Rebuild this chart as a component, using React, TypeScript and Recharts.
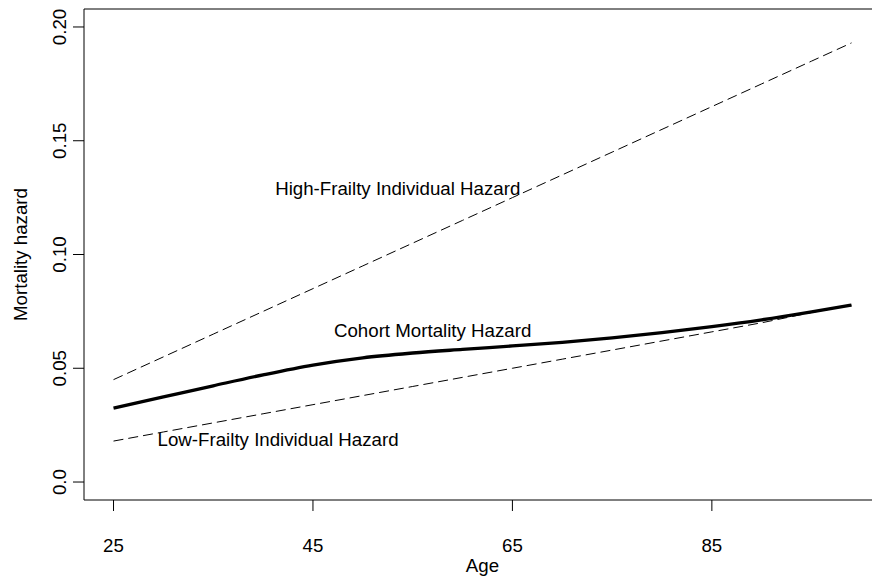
import React from 'react';
import { LineChart, Line, XAxis, YAxis, ReferenceLine, ReferenceDot } from 'recharts';

const ages = [25, 30, 35, 40, 45, 50, 55, 60, 65, 70, 75, 80, 85, 90, 95, 99];
const highFrailty = [0.045, 0.055, 0.065, 0.075, 0.085, 0.095, 0.105, 0.115, 0.125, 0.135, 0.145, 0.155, 0.165, 0.175, 0.185, 0.193];
const cohortHazard = [0.0325, 0.0374, 0.0423, 0.0471, 0.0514, 0.0546, 0.0567, 0.0583, 0.0598, 0.0614, 0.0634, 0.0657, 0.0683, 0.0713, 0.0748, 0.0778];
const lowFrailty = [0.018, 0.022, 0.026, 0.030, 0.034, 0.038, 0.042, 0.046, 0.050, 0.054, 0.058, 0.062, 0.066, 0.070, 0.0745, 0.0777];

const xTicks = [25, 45, 65, 85];
const yTicks = [0, 0.05, 0.1, 0.15, 0.2];
const yTickLabels = ['0.0', '0.05', '0.10', '0.15', '0.20'];

const annotationTexts = ['High-Frailty Individual Hazard', 'Cohort Mortality Hazard', 'Low-Frailty Individual Hazard'];
const annotationAges = [53.5, 57.0, 41.5];
const annotationValues = [0.1292, 0.0668, 0.0189];

const xDomain = [22.04, 101.96];
const yDomain = [-0.0079, 0.2079];

const data = ages.map((a, i) => ({
  age: a,
  high: highFrailty[i],
  cohort: cohortHazard[i],
  low: lowFrailty[i],
}));

const FONT = '"Liberation Sans", Arial, Helvetica, sans-serif';
const FS = 18.7;

const XTick = (props: any) => {
  const { x, y, payload } = props;
  return (
    <text x={x} y={y + 41} textAnchor="middle" fontFamily={FONT} fontSize={FS} fill="#000">
      {payload.value}
    </text>
  );
};

const YTick = (props: any) => {
  const { x, y, payload } = props;
  const idx = yTicks.indexOf(payload.value);
  const label = idx >= 0 ? yTickLabels[idx] : String(payload.value);
  return (
    <text
      x={x}
      y={y}
      transform={`rotate(-90 ${x} ${y})`}
      textAnchor="middle"
      fontFamily={FONT}
      fontSize={FS}
      fill="#000"
    >
      {label}
    </text>
  );
};

const makeAnnotation = (text: string) => (props: any) => {
  const vb = props.viewBox || {};
  const cx = (vb.x || 0) + (vb.width || 0) / 2;
  const cy = (vb.y || 0) + (vb.height || 0) / 2;
  return (
    <text x={cx} y={cy} dy="0.36em" textAnchor="middle" fontFamily={FONT} fontSize={FS} fill="#000">
      {text}
    </text>
  );
};

export default function App() {
  return (
    <div
      style={{
        position: 'absolute',
        left: 0,
        top: 0,
        width: 872,
        height: 577,
        overflow: 'hidden',
        background: '#fff',
      }}
    >
      <LineChart width={890} height={577} data={data} margin={{ top: 9, right: 9, bottom: 0, left: 0 }}>
        <XAxis
          dataKey="age"
          type="number"
          domain={xDomain}
          ticks={xTicks}
          allowDataOverflow
          axisLine={false}
          tickLine={{ stroke: '#000', strokeWidth: 1 }}
          tickSize={11}
          tickMargin={0}
          height={77}
          tick={<XTick />}
          label={{
            content: (p: any) => {
              const vb = p.viewBox;
              return (
                <text x={vb.x + vb.width / 2} y={572} textAnchor="middle" fontFamily={FONT} fontSize={FS} fill="#000">
                  Age
                </text>
              );
            },
          }}
        />
        <YAxis
          type="number"
          domain={yDomain}
          ticks={yTicks}
          allowDataOverflow
          axisLine={false}
          tickLine={{ stroke: '#000', strokeWidth: 1 }}
          tickSize={11}
          tickMargin={7}
          width={84}
          tick={<YTick />}
          label={{
            content: (p: any) => {
              const vb = p.viewBox;
              const cy = vb.y + vb.height / 2;
              return (
                <text
                  x={27}
                  y={cy}
                  transform={`rotate(-90 27 ${cy})`}
                  textAnchor="middle"
                  fontFamily={FONT}
                  fontSize={FS}
                  fill="#000"
                >
                  Mortality hazard
                </text>
              );
            },
          }}
        />
        <ReferenceLine y={yDomain[1]} stroke="#000" strokeWidth={1} ifOverflow="visible" />
        <ReferenceLine y={yDomain[0]} stroke="#000" strokeWidth={1} ifOverflow="visible" />
        <ReferenceLine x={xDomain[0]} stroke="#000" strokeWidth={1} ifOverflow="visible" />
        <Line
          dataKey="high"
          type="linear"
          stroke="#000"
          strokeWidth={1}
          strokeDasharray="10 5"
          dot={false}
          isAnimationActive={false}
        />
        <Line
          dataKey="low"
          type="linear"
          stroke="#000"
          strokeWidth={1}
          strokeDasharray="10 5"
          dot={false}
          isAnimationActive={false}
        />
        <Line
          dataKey="cohort"
          type="monotone"
          stroke="#000"
          strokeWidth={3.3}
          dot={false}
          isAnimationActive={false}
        />
        {annotationTexts.map((t, i) => (
          <ReferenceDot
            key={t}
            x={annotationAges[i]}
            y={annotationValues[i]}
            r={0}
            fill="none"
            stroke="none"
            ifOverflow="visible"
            label={{ content: makeAnnotation(t) }}
          />
        ))}
      </LineChart>
    </div>
  );
}
